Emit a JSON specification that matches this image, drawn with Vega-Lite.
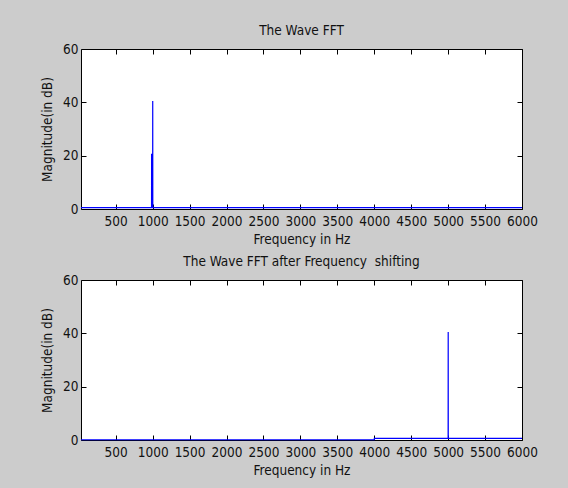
{
  "$schema": "https://vega.github.io/schema/vega-lite/v6.json",
  "background": "#cccccc",
  "padding": {"left": 40, "top": 23, "right": 37, "bottom": 11},
  "datasets": {
    "top": [
      {"f": 30, "m": 0.5}, {"f": 985, "m": 0.5}, {"f": 986, "m": 20.5}, {"f": 996, "m": 20.5}, {"f": 997, "m": 0.5},
      {"f": 1000, "m": 0.5}, {"f": 1001, "m": 40.5}, {"f": 1002, "m": 0.5}, {"f": 6000, "m": 0.5}
    ],
    "bottom": [
      {"f": 30, "m": 0.1}, {"f": 4000, "m": 0.1}, {"f": 4001, "m": 0.6}, {"f": 4995, "m": 0.6},
      {"f": 5000, "m": 0.6}, {"f": 5001, "m": 40.5}, {"f": 5002, "m": 0.6}, {"f": 6000, "m": 0.6}
    ]
  },
  "config": {
    "font": "Liberation Sans Narrow, DejaVu Sans Condensed, Liberation Sans",
    "view": {"stroke": null, "fill": "#ffffff"},
    "title": {"fontSize": 13.5, "fontWeight": "normal", "color": "#111111", "offset": 5},
    "axis": {
      "grid": false,
      "domainColor": "#000000",
      "tickColor": "#000000",
      "tickSize": -5,
      "labelFontSize": 13.5,
      "labelColor": "#111111",
      "labelOverlap": false,
      "labelFlush": false,
      "format": "d",
      "titleFontSize": 13.5,
      "titleFontWeight": "normal",
      "titleColor": "#111111"
    }
  },
  "spacing": 8,
  "vconcat": [
    {
      "width": 441,
      "height": 160,
      "title": "The Wave FFT",
      "data": {"name": "top"},
      "layer": [
        {
          "mark": {"type": "line", "color": "#0000ff", "strokeWidth": 1.2},
          "encoding": {
            "x": {"field": "f", "type": "quantitative", "scale": {"domain": [30, 6000], "nice": false, "zero": false},
              "axis": {"orient": "bottom", "values": [500,1000,1500,2000,2500,3000,3500,4000,4500,5000,5500,6000], "title": "Frequency in Hz", "labelPadding": 10, "titlePadding": 5}},
            "y": {"field": "m", "type": "quantitative", "scale": {"domain": [0, 60], "nice": false},
              "axis": {"orient": "left", "values": [0,20,40,60], "title": "Magnitude(in dB)", "labelPadding": 8, "titlePadding": 8}}
          }
        },
        {
          "mark": {"type": "line", "opacity": 0},
          "encoding": {
            "x": {"field": "f", "type": "quantitative", "axis": {"orient": "top", "values": [500,1000,1500,2000,2500,3000,3500,4000,4500,5000,5500,6000], "labels": false, "title": null}},
            "y": {"field": "m", "type": "quantitative", "axis": {"orient": "right", "values": [0,20,40,60], "labels": false, "title": null}}
          }
        }
      ]
    },
    {
      "width": 441,
      "height": 160,
      "title": "The Wave FFT after Frequency \u00a0shifting",
      "data": {"name": "bottom"},
      "layer": [
        {
          "mark": {"type": "line", "color": "#0000ff", "strokeWidth": 1.2},
          "encoding": {
            "x": {"field": "f", "type": "quantitative", "scale": {"domain": [30, 6000], "nice": false, "zero": false},
              "axis": {"orient": "bottom", "values": [500,1000,1500,2000,2500,3000,3500,4000,4500,5000,5500,6000], "title": "Frequency in Hz", "labelPadding": 10, "titlePadding": 5}},
            "y": {"field": "m", "type": "quantitative", "scale": {"domain": [0, 60], "nice": false},
              "axis": {"orient": "left", "values": [0,20,40,60], "title": "Magnitude(in dB)", "labelPadding": 8, "titlePadding": 8}}
          }
        },
        {
          "mark": {"type": "line", "opacity": 0},
          "encoding": {
            "x": {"field": "f", "type": "quantitative", "axis": {"orient": "top", "values": [500,1000,1500,2000,2500,3000,3500,4000,4500,5000,5500,6000], "labels": false, "title": null}},
            "y": {"field": "m", "type": "quantitative", "axis": {"orient": "right", "values": [0,20,40,60], "labels": false, "title": null}}
          }
        }
      ]
    }
  ]
}
